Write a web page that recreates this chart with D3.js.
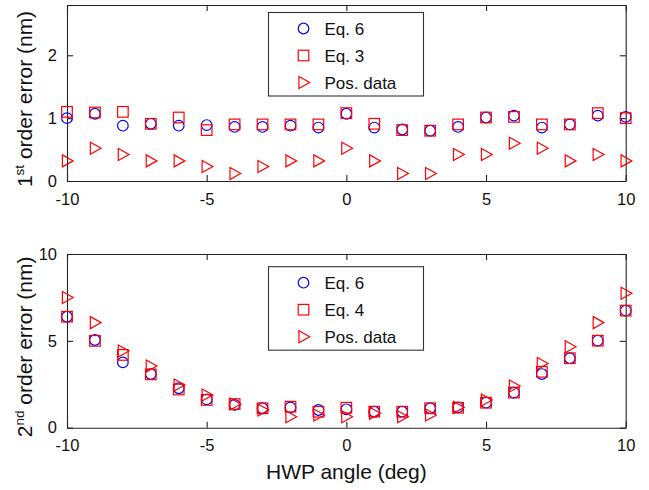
<!DOCTYPE html>
<html>
<head>
<meta charset="utf-8">
<script src="https://cdn.jsdelivr.net/npm/d3@7"></script>
<style>
  html, body { margin: 0; padding: 0; background: #fff; }
  svg { display: block; font-family: "Liberation Sans", Arial, Helvetica, sans-serif; }
</style>
</head>
<body>
<svg id="chart" width="649" height="490"></svg>
<script>
// HWP angle (deg) sampled every degree
const angles = [-10, -9, -8, -7, -6, -5, -4, -3, -2, -1, 0, 1, 2, 3, 4, 5, 6, 7, 8, 9, 10];

// First-order error (nm)
const first_eq6 = [1.00, 1.07, 0.88, 0.91, 0.88, 0.89, 0.86, 0.86, 0.88, 0.85, 1.07, 0.85, 0.82, 0.80, 0.86, 1.01, 1.04, 0.85, 0.90, 1.04, 1.02];
const first_eq3 = [1.10, 1.09, 1.10, 0.91, 1.01, 0.81, 0.90, 0.90, 0.90, 0.90, 1.08, 0.91, 0.81, 0.80, 0.90, 1.01, 1.02, 0.90, 0.90, 1.08, 1.00];
const first_pos = [0.32, 0.52, 0.42, 0.32, 0.32, 0.23, 0.12, 0.23, 0.32, 0.32, 0.52, 0.32, 0.12, 0.12, 0.42, 0.42, 0.60, 0.52, 0.32, 0.42, 0.32];

// Second-order error (nm)
const second_eq6 = [6.39, 5.05, 3.76, 3.09, 2.27, 1.63, 1.31, 1.12, 1.17, 1.02, 1.06, 0.92, 0.92, 1.12, 1.17, 1.44, 2.02, 3.09, 4.00, 5.01, 6.74];
const second_eq4 = [6.39, 5.00, 4.19, 3.07, 2.20, 1.60, 1.36, 1.12, 1.21, 0.92, 1.15, 0.92, 0.92, 1.12, 1.15, 1.44, 2.02, 3.22, 4.00, 5.01, 6.74];
const second_pos = [7.50, 6.05, 4.42, 3.55, 2.46, 1.88, 1.36, 1.02, 0.63, 0.73, 0.63, 0.83, 0.63, 0.73, 1.17, 1.60, 2.40, 3.70, 4.66, 6.05, 7.74];

const xTicks = [-10, -5, 0, 5, 10];
const firstTicks = [0, 1, 2];
const secondTicks = [0, 5, 10];

const BLUE = "#0000ff", RED = "#ff0000";
const svg = d3.select("#chart");

const x = d3.scaleLinear().domain([-10, 10]).range([67, 625.7]);

// marker glyphs centred on (0,0)
const markerDraw = {
  circle: g => g.append("circle").attr("r", 5.3),
  square: g => g.append("rect").attr("x", -5.3).attr("y", -5.3).attr("width", 10.6).attr("height", 10.6),
  triangle: g => g.append("path").attr("d", "M-4.6,-6L6.2,0L-4.6,6Z")
};

function panel(opts) {
  const y = d3.scaleLinear().domain(opts.yDomain).range([opts.bottom, opts.top]);
  const g = svg.append("g");
  const tick = 6;
  const fmt = d => String(d);

  // frame with inward ticks on all four sides
  g.append("g").attr("transform", `translate(0,${opts.bottom})`)
    .call(d3.axisBottom(x).tickValues(xTicks).tickSize(-tick).tickSizeOuter(0).tickPadding(12).tickFormat(fmt));
  g.append("g").attr("transform", `translate(0,${opts.top})`)
    .call(d3.axisTop(x).tickValues(xTicks).tickSize(-tick).tickSizeOuter(0).tickFormat(""));
  g.append("g").attr("transform", `translate(${x.range()[0]},0)`)
    .call(d3.axisLeft(y).tickValues(opts.yTicks).tickSize(-tick).tickSizeOuter(0).tickPadding(10).tickFormat(fmt));
  g.append("g").attr("transform", `translate(${x.range()[1]},0)`)
    .call(d3.axisRight(y).tickValues(opts.yTicks).tickSize(-tick).tickSizeOuter(0).tickFormat(""));

  g.selectAll(".domain").attr("stroke", "#222").attr("stroke-width", 1.1);
  g.selectAll(".tick line").attr("stroke", "#222").attr("stroke-width", 1.1);
  g.selectAll(".tick text").attr("font-size", 16.5).attr("fill", "#111")
    .attr("font-family", "'Liberation Sans', Arial, sans-serif");

  // y-axis title with ordinal superscript
  const cy = (opts.top + opts.bottom) / 2 + 6;
  const t = g.append("text")
    .attr("transform", `translate(32,${cy}) rotate(-90)`)
    .attr("text-anchor", "middle")
    .attr("font-size", 21).attr("fill", "#111");
  t.append("tspan").text(opts.ordinal[0]);
  t.append("tspan").attr("font-size", 13.5).attr("dy", -8).text(opts.ordinal[1]);
  t.append("tspan").attr("dy", 8).text(" order error (nm)");

  // data series: circles, then squares, then triangles
  const plot = g.append("g").attr("fill", "none").attr("stroke-width", 1.2);
  opts.series.forEach(s => {
    const sg = plot.append("g").attr("stroke", s.color);
    angles.forEach((a, i) => {
      const m = sg.append("g").attr("transform", `translate(${x(a)},${y(s.values[i])})`);
      markerDraw[s.marker](m);
    });
  });

  // legend
  const lg = g.append("g").attr("transform", `translate(268.5,${opts.legendTop})`);
  lg.append("rect").attr("width", 155).attr("height", 83.5)
    .attr("fill", "#fff").attr("stroke", "#333").attr("stroke-width", 1.1);
  opts.series.forEach((s, i) => {
    const row = lg.append("g").attr("transform", `translate(0,${16 + i * 27})`);
    const m = row.append("g").attr("transform", "translate(35,0)")
      .attr("fill", "none").attr("stroke", s.color).attr("stroke-width", 1.2);
    markerDraw[s.marker](m);
    row.append("text").attr("x", 56).attr("y", 6).attr("font-size", 17).attr("fill", "#111").text(s.label);
  });
}

panel({
  top: 5, bottom: 181, yDomain: [0, 2.8], yTicks: firstTicks,
  ordinal: ["1", "st"], legendTop: 12.5,
  series: [
    { values: first_eq6, color: BLUE, marker: "circle", label: "Eq. 6" },
    { values: first_eq3, color: RED, marker: "square", label: "Eq. 3" },
    { values: first_pos, color: RED, marker: "triangle", label: "Pos. data" }
  ]
});

panel({
  top: 254, bottom: 427.7, yDomain: [0, 10], yTicks: secondTicks,
  ordinal: ["2", "nd"], legendTop: 266.7,
  series: [
    { values: second_eq6, color: BLUE, marker: "circle", label: "Eq. 6" },
    { values: second_eq4, color: RED, marker: "square", label: "Eq. 4" },
    { values: second_pos, color: RED, marker: "triangle", label: "Pos. data" }
  ]
});

// shared x-axis title
svg.append("text")
  .attr("x", x(0)).attr("y", 479)
  .attr("text-anchor", "middle")
  .attr("font-size", 21).attr("fill", "#111")
  .text("HWP angle (deg)");
</script>
</body>
</html>
